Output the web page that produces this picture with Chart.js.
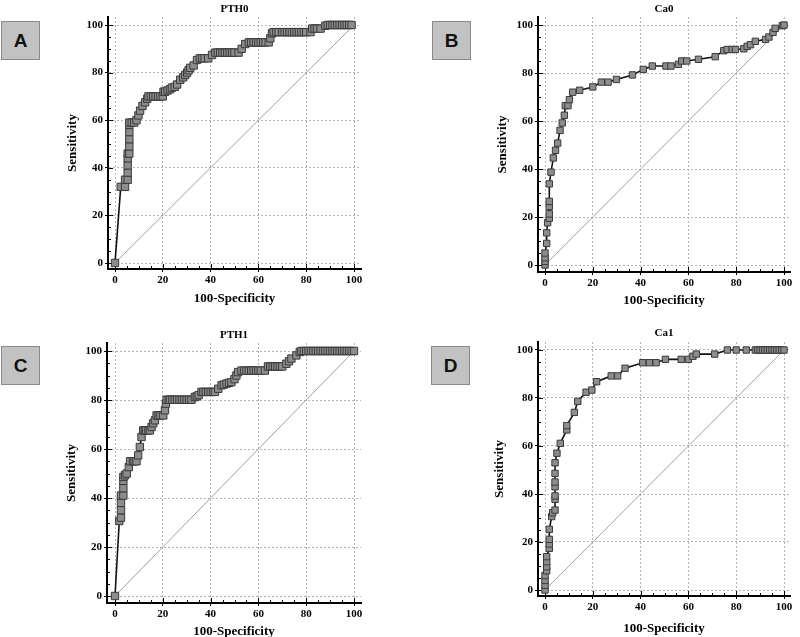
<!DOCTYPE html>
<html lang="en">
<head>
  <meta charset="UTF-8">
  <title>ROC curves – PTH and Ca</title>
  <script src="https://cdn.jsdelivr.net/npm/chart.js"></script>
  <style>
    html, body {
      margin: 0;
      padding: 0;
      background: #fff;
      overflow: hidden;
    }
    body {
      position: relative;
      width: 800px;
      height: 637px;
    }
    .panel {
      position: absolute;
      width: 400px;
      height: 330px;
    }
    .tag {
      position: absolute;
      width: 37px;
      height: 37px;
      background: #c2c2c2;
      border: 1px solid #8a8a8a;
      font: bold 19px "Liberation Sans", Arial, sans-serif;
      color: #111;
      display: flex;
      align-items: center;
      justify-content: center;
    }
  </style>
</head>
<body>
  <div class="panel" style="left:0;top:0"><canvas id="chartA"></canvas></div>
  <div class="panel" style="left:400px;top:0"><canvas id="chartB"></canvas></div>
  <div class="panel" style="left:0;top:318px"><canvas id="chartC"></canvas></div>
  <div class="panel" style="left:400px;top:318px"><canvas id="chartD"></canvas></div>

  <div class="tag" style="left:1px;top:21px">A</div>
  <div class="tag" style="left:432px;top:21px">B</div>
  <div class="tag" style="left:1px;top:346px">C</div>
  <div class="tag" style="left:431px;top:346px">D</div>

  <script>
    // tick labels on both axes
    const axisTicks = [0, 20, 40, 60, 80, 100];
    // reference line
    const diagX = [0, 100];
    const diagY = [0, 100];

    // A: PTH0
    const pth0Fpr = [0, 2.4, 4.2, 4.2, 5.3, 5.3, 5.3, 5.3, 5.3, 6, 6, 6, 6, 6, 6, 7, 8, 9, 9.8, 10.5, 11.5, 12.6, 13.5, 14, 15, 16, 17, 18, 19, 20, 20.3, 21, 22, 23, 23.8, 25, 26, 27.3, 28.5, 29.4, 30.2, 30.8, 31.5, 32.9, 34.3, 35.5, 36.5, 37.5, 39, 40.6, 42, 43, 44, 45, 46, 47, 48, 49, 50, 51.7, 53, 54.5, 56, 57, 58, 59, 60, 61, 62, 63, 64.3, 65, 65.7, 66.4, 67.5, 68.5, 70, 71, 72, 73, 74, 75, 76, 77, 78, 79, 80, 81.8, 82.5, 83.5, 84.5, 86, 88, 89, 90, 91, 92, 93, 94, 95, 96, 97, 98, 99, 100];
    const pth0Sens = [0, 32, 32, 35, 35, 38, 41, 44, 46, 46, 49, 52, 55, 58, 59, 59, 59, 60, 62, 64, 66, 67.5, 69, 70, 70, 70, 70, 70, 70, 70, 72, 72, 72.5, 73, 73.7, 74, 75, 77, 78, 79, 80, 81, 82, 83, 85.3, 86, 86, 86, 86, 87.4, 88.4, 88.4, 88.4, 88.4, 88.4, 88.4, 88.4, 88.4, 88.4, 88.4, 90, 92, 92.7, 92.7, 92.7, 92.7, 92.7, 92.7, 92.7, 92.7, 92.7, 94.4, 96.5, 97, 97, 97, 97, 97, 97, 97, 97, 97, 97, 97, 97, 97, 97, 97, 98.5, 98.5, 98.5, 98.5, 99.7, 100, 100, 100, 100, 100, 100, 100, 100, 100, 100, 100];

    // B: Ca0
    const ca0Fpr = [0, 0, 0, 0, 0.7, 0.7, 1.1, 1.8, 1.8, 1.8, 1.8, 1.8, 2.5, 3.5, 4.4, 5.3, 6.3, 7.2, 8.1, 8.5, 9.6, 10.2, 11.6, 14.5, 20, 23.6, 26.4, 29.9, 36.6, 41.1, 44.9, 50.6, 52.7, 55.8, 57.2, 59.3, 64.2, 71.2, 74.8, 76.2, 78.3, 79.7, 83.2, 84.6, 86, 88, 92.3, 93.7, 95.4, 96.3, 99.3, 100];
    const ca0Sens = [0, 1.5, 3, 5, 9, 13.4, 17.6, 19.5, 21.3, 24.4, 26.5, 33.8, 38.7, 44.6, 47.8, 50.8, 56.1, 59.2, 62.4, 66.4, 66.4, 68.9, 72, 72.8, 74.2, 76.2, 76.2, 77.3, 79.2, 81.5, 82.9, 82.9, 82.9, 83.6, 85, 85, 85.7, 86.8, 89.3, 89.8, 89.8, 89.8, 90.1, 91.1, 91.8, 93.2, 94, 95, 96.9, 98.6, 99.7, 100];

    // C: PTH1
    const pth1Fpr = [0, 1.8, 2.5, 2.5, 2.5, 2.5, 3.5, 3.5, 3.5, 3.5, 4.2, 4.9, 5.8, 6.3, 7.5, 8.2, 9, 9.7, 10.4, 11.1, 11.8, 12.5, 13, 14, 14.6, 15.3, 16, 16.7, 17.4, 18.2, 19, 20.2, 20.9, 21.3, 21.6, 22.5, 23, 24, 25, 26, 27, 28, 29, 30, 31, 32, 33.4, 34.2, 35, 36.2, 37, 38, 39, 40, 41, 41.8, 43.2, 44.6, 45.5, 46.7, 47.7, 48.7, 50, 50.8, 51.5, 52.9, 54, 55, 56, 57, 58, 59, 60, 61, 62.7, 64, 65, 66, 67, 68, 69, 70, 71.7, 72.8, 73.8, 75.9, 77.3, 78, 79, 80, 81, 82, 83, 84, 85, 86, 87, 88, 89, 90, 91, 92, 93, 94, 95, 96, 97, 98, 99, 100];
    const pth1Sens = [0, 30.6, 32, 35, 38, 41, 41, 44, 47, 48.6, 49.3, 50, 52.6, 55, 55, 55, 55, 57.4, 60.8, 64.9, 67.6, 67.6, 67.6, 67.6, 67.6, 69, 70.5, 71.7, 73.7, 73.7, 73.7, 73.7, 75.8, 78.5, 80.1, 80.1, 80.1, 80.1, 80.1, 80.1, 80.1, 80.1, 80.1, 80.1, 80.1, 80.1, 81.2, 81.5, 82, 83.3, 83.3, 83.3, 83.3, 83.3, 83.3, 83.3, 84.6, 86, 86.3, 86.7, 87, 87.3, 88.5, 90, 91.4, 92, 92, 92, 92, 92, 92, 92, 92, 92, 92, 93.7, 93.7, 93.7, 93.7, 93.7, 93.7, 93.7, 94.8, 95.8, 96.9, 98.2, 99.6, 100, 100, 100, 100, 100, 100, 100, 100, 100, 100, 100, 100, 100, 100, 100, 100, 100, 100, 100, 100, 100, 100, 100];

    // D: Ca1
    const ca1Fpr = [0, 0, 0, 0, 0.7, 0.7, 0.7, 0.7, 1.8, 1.8, 1.8, 1.8, 2.8, 3.2, 4.2, 4.2, 4.2, 4.2, 4.2, 4.2, 4.2, 5, 6.4, 9.1, 9.1, 12.3, 13.7, 17.2, 19.6, 21.6, 27.7, 30.4, 33.5, 40.9, 43.7, 46.5, 50.4, 57, 60, 61.9, 63.3, 71, 76.3, 80, 84.2, 88, 89, 90, 91, 92, 93, 94, 95, 96, 97, 98, 99, 100];
    const ca1Sens = [0, 2, 4, 6, 8, 9.7, 11.8, 13.9, 17.4, 19.2, 21.1, 25.3, 30.6, 32.2, 33.3, 37.8, 39.2, 43, 45, 48.6, 53, 57, 61.1, 66.7, 68.5, 74, 78.6, 82.4, 83.3, 86.8, 89.2, 89.2, 92.4, 94.7, 94.7, 94.7, 96.1, 96.1, 96.1, 97.4, 98.3, 98.3, 100, 100, 100, 100, 100, 100, 100, 100, 100, 100, 100, 100, 100, 100, 100, 100];

    const serif = '"Liberation Serif", "Times New Roman", serif';

    // small inward ticks every 5 units, like the original software draws
    const minorTicks = {
      id: 'minorTicks',
      beforeDatasetsDraw(chart) {
        const {ctx, chartArea, scales} = chart;
        ctx.save();
        ctx.strokeStyle = '#000';
        ctx.lineWidth = 1;
        ctx.beginPath();
        for (let v = 0; v <= 100; v += 5) {
          const len = v % 20 === 0 ? 5 : 3;
          const px = Math.round(scales.x.getPixelForValue(v)) + 0.5;
          ctx.moveTo(px, chartArea.bottom);
          ctx.lineTo(px, chartArea.bottom - len);
          const py = Math.round(scales.y.getPixelForValue(v)) + 0.5;
          ctx.moveTo(chartArea.left, py);
          ctx.lineTo(chartArea.left + len, py);
        }
        ctx.stroke();
        ctx.restore();
      }
    };

    function toPoints(xs, ys) {
      return xs.map((x, i) => ({x: x, y: ys[i]}));
    }

    // g = pixel layout of the panel inside its 400x330 canvas
    function rocChart(id, name, fpr, sens, g) {
      const W = 400, H = 330;
      const xu = 100 / (g.x100 - g.x0);
      const yu = 100 / (g.y0 - g.y100);
      const padLeft = g.yTitleX - 7.8;
      const xHeight = g.xTitleY + 7.8 - g.bottom;

      const axis = (min, max) => ({
        type: 'linear',
        min: min,
        max: max,
        afterBuildTicks: s => { s.ticks = axisTicks.map(v => ({value: v})); },
        grid: {
          color: '#b4b4b4',
          lineWidth: 1,
          tickLength: 3,
          tickColor: '#000',
          tickWidth: 1,
          tickBorderDash: []
        },
        border: { display: true, color: '#000', width: 2, dash: [2, 2] },
        ticks: {
          color: '#000',
          padding: 2,
          maxRotation: 0,
          font: { family: serif, size: 11, weight: 'bold' }
        }
      });

      const xScale = axis(-(g.x0 - g.left) * xu, 100 + (g.right - g.x100) * xu);
      xScale.title = { display: true, text: '100-Specificity', color: '#000', padding: 0,
                       font: { family: serif, size: 13, weight: 'bold' } };
      xScale.afterFit = s => { s.height = xHeight; };

      const yScale = axis(-(g.bottom - g.y0) * yu, 100 + (g.y100 - g.top) * yu);
      yScale.title = { display: true, text: 'Sensitivity', color: '#000', padding: 0,
                       font: { family: serif, size: 13, weight: 'bold' } };
      yScale.afterFit = s => { s.width = g.left - padLeft; };

      new Chart(document.getElementById(id), {
        type: 'scatter',
        data: {
          datasets: [{
            label: name,
            data: toPoints(fpr, sens),
            showLine: true,
            borderColor: '#111',
            borderWidth: 1.6,
            tension: 0,
            pointStyle: 'rect',
            pointRadius: g.r,
            pointBackgroundColor: '#8d8d8d',
            pointBorderColor: '#3a3a3a',
            pointBorderWidth: 1
          }, {
            label: 'reference',
            data: toPoints(diagX, diagY),
            showLine: true,
            borderColor: '#a0a0a0',
            borderWidth: 1,
            pointRadius: 0
          }]
        },
        options: {
          responsive: true,
          maintainAspectRatio: false,
          animation: false,
          layout: {
            padding: { left: padLeft, right: W - g.right, top: 0, bottom: H - g.bottom - xHeight }
          },
          scales: { x: xScale, y: yScale },
          plugins: {
            legend: { display: false },
            tooltip: { enabled: false },
            title: {
              display: true,
              text: name,
              fullSize: false,
              color: '#000',
              font: { family: serif, size: 11, weight: 'bold', lineHeight: 1.2 },
              padding: { top: g.tY - 6.6, bottom: g.top - g.tY - 6.6 }
            }
          }
        },
        plugins: [minorTicks]
      });
    }

    rocChart('chartA', 'PTH0', pth0Fpr, pth0Sens,
      { left: 108, right: 361, top: 17, bottom: 269, x0: 115, x100: 354, y0: 263, y100: 25, tY: 9, xTitleY: 299, yTitleX: 73, r: 5.2 });
    rocChart('chartB', 'Ca0', ca0Fpr, ca0Sens,
      { left: 138, right: 390, top: 17, bottom: 272, x0: 145, x100: 384, y0: 265, y100: 25, tY: 9, xTitleY: 301, yTitleX: 103, r: 4.5 });
    rocChart('chartC', 'PTH1', pth1Fpr, pth1Sens,
      { left: 107, right: 361, top: 25, bottom: 285, x0: 115, x100: 354, y0: 278, y100: 33, tY: 17, xTitleY: 314, yTitleX: 72, r: 5.2 });
    rocChart('chartD', 'Ca1', ca1Fpr, ca1Sens,
      { left: 138, right: 390, top: 24, bottom: 278, x0: 145, x100: 384, y0: 272, y100: 32, tY: 15, xTitleY: 311, yTitleX: 100, r: 4.5 });
  </script>
</body>
</html>
